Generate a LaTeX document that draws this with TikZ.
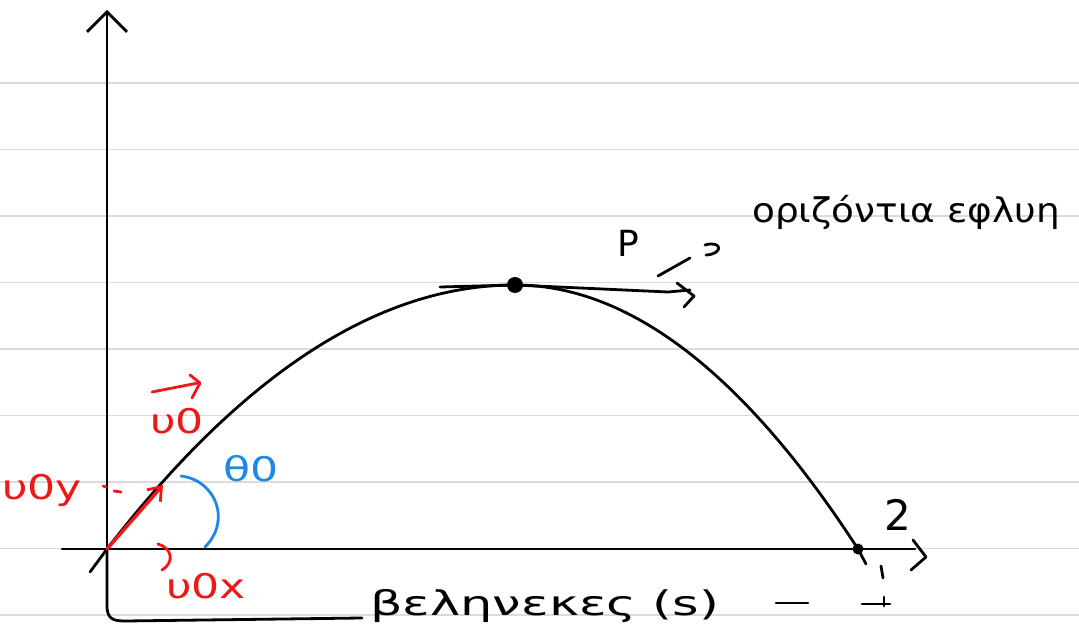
\documentclass[tikz,border=0pt]{standalone}
\usepackage{fontspec}
\setmainfont{DejaVu Sans}
\usetikzlibrary{arrows.meta}
\definecolor{inkred}{RGB}{238,24,24}
\definecolor{inkblue}{RGB}{30,136,229}
\begin{document}
\begin{tikzpicture}[x=1pt,y=-1pt,
  ink/.style={line width=2.8pt, line cap=round, line join=round},
  rule/.style={draw=black!14, line width=1.3pt},
  lbl/.style={font=\fontsize{34}{36}\selectfont, inner sep=0pt},
  redlbl/.style={lbl, text=inkred, xscale=1.3},
  bluelbl/.style={lbl, text=inkblue, xscale=1.3},
  dot/.style={circle, fill=black, inner sep=0pt, minimum size=#1},
  barb/.style={-{Straight Barb[length=20pt,width=40pt,line width=2.8pt]}}]
\useasboundingbox (0,0) rectangle (1079,631);
\fill[white] (0,0) rectangle (1079,631);
\foreach \yy in {83,149.5,216,282.5,349,415.5,482,548.5,615}
  \draw[rule] (0,\yy) -- (1079,\yy);

% key points
\coordinate (O) at (107,549);
\coordinate (ytop) at (107,10);
\coordinate (xl) at (62,549);
\coordinate (xr) at (915,549);
\coordinate (below) at (90,572);
\node[dot=16pt] (peak) at (515,285) {};
\node[dot=11pt] (land) at (858,549) {};

% axes
\draw[ink, barb] (O) -- (ytop);
\draw[ink] (xl) -- (xr);
\draw[ink] (913,540) -- (926,557) -- (911,570);

% trajectory
\draw[ink] (below) -- (O) .. controls (243,373) and (379,285) .. (peak.center)
  .. controls (629,285) and (744,373) .. (land.center) -- (866,564);

% horizontal tangent at the top
\coordinate (tl) at (440,287);
\coordinate (tr) at (668,292);
\draw[ink] (tl) -- (peak) -- (tr) -- (690,290);
\draw[ink] (677,283) -- (694,296) -- (684,307);
\node[lbl, font=\fontsize{36}{38}\selectfont] (P) at (628,243) {P};
\draw[ink] (658,276) -- (690,258);
\draw[ink] (705,245) .. controls (722,240) and (724,254) .. (706,255);
\node[lbl, anchor=west, xscale=1.1] (tangent) at (752,212) {οριζόντια εφλυη};

% range label with bracket
\node[lbl, anchor=west, xscale=1.5] (range) at (370,606) {βεληνεκες (s)};
\draw[ink] (O) -- (107,608) .. controls (108,618) and (112,621) .. (125,621)
  -- (362,618);
\draw[ink] (776,603) -- (808,603);
\draw[ink] (862,604) -- (890,604);
\draw[ink] (884,597) -- (884,606);

% landing labels
\node[lbl, font=\fontsize{42}{44}\selectfont] (two) at (898,515) {2};
\draw[ink] (881,566) -- (883,578);

% red vectors
\coordinate (v0) at (163,485);
\draw[ink, draw=inkred, line width=3.4pt, -{Straight Barb[length=12pt,width=18pt,line width=2.8pt]}] (O) -- (v0);
\draw[ink, draw=inkred] (103,486) -- (106,487);
\draw[ink, draw=inkred] (114,491) -- (121,492);
\draw[ink, draw=inkred] (158,544) .. controls (172,548) and (175,562) .. (162,570);
\node[redlbl] (v0y) at (42,490) {υ0y};
\node[redlbl] (v0x) at (206,586) {υ0x};
\node[redlbl] (v0lbl) at (177,421) {υ0};
\draw[ink, draw=inkred] (152,392) -- (198,383);
\draw[ink, draw=inkred] (190,375) -- (200,383) -- (192,398);

% angle
\draw[ink, draw=inkblue] (181,476) .. controls (215,480) and (232,520) .. (205,547);
\node[bluelbl] (theta) at (251,469) {θ0};
\end{tikzpicture}
\end{document}
